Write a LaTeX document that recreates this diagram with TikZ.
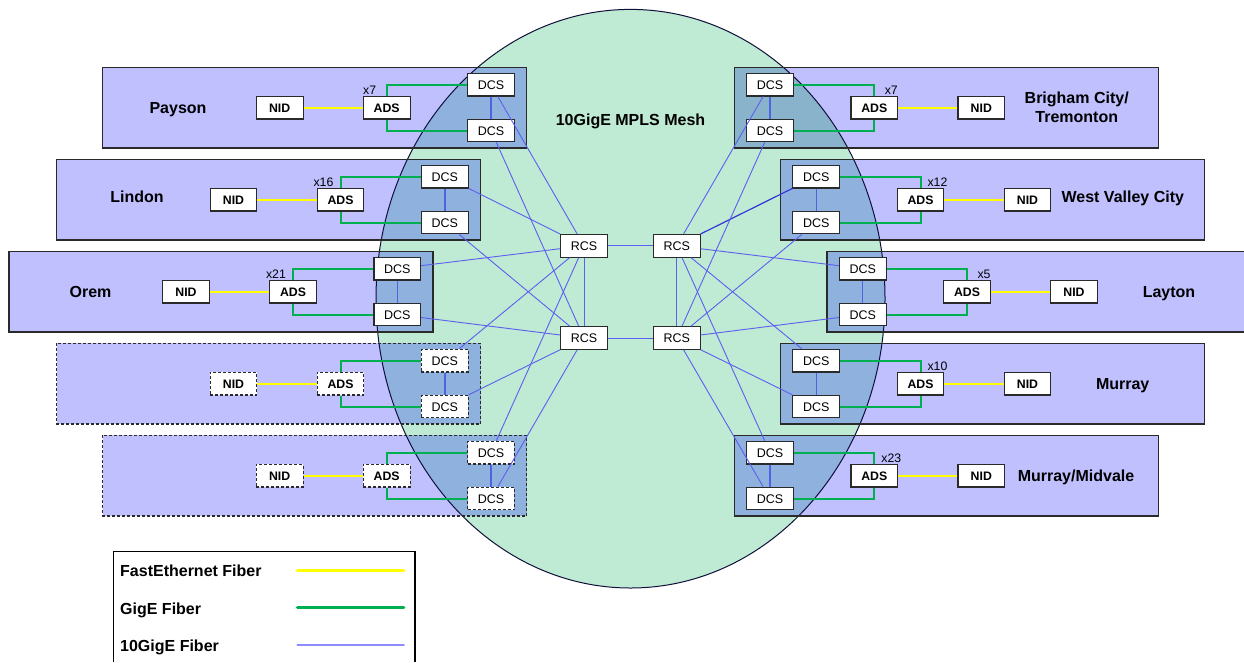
\documentclass[tikz,border=0pt]{standalone}
\usepackage{fontspec}
\setmainfont{Liberation Sans}
\definecolor{sitefill}{HTML}{C0C0FF}
\definecolor{meshfill}{HTML}{BFEAD3}
\definecolor{overfill}{HTML}{8FB1DE}
\definecolor{overfillB}{HTML}{88B3CB}
\definecolor{tenG}{HTML}{5E5EF0}
\definecolor{tenGv}{HTML}{4F63E2}
\definecolor{tenGd}{HTML}{3434D8}
\definecolor{tenGl}{HTML}{8C8CFF}
\definecolor{gigE}{HTML}{00B050}
\definecolor{fastE}{HTML}{FFFF00}
\definecolor{edge}{HTML}{2A2A2A}
\definecolor{ringedge}{HTML}{10103A}
\begin{document}
\begin{tikzpicture}[x=1pt,y=-1pt]
\tikzset{
 nb/.style={draw=edge, line width=1.1pt, fill=white, minimum width=46.7pt, minimum height=22.7pt, inner sep=0pt, font=\fontsize{12.5}{14}\selectfont, text height=9pt, text depth=0pt},
 nbb/.style={nb, font=\fontsize{12.3}{14}\selectfont\bfseries},
 dsh/.style={dash pattern=on 3pt off 2pt},
 sitename/.style={font=\fontsize{16}{19}\selectfont\bfseries, inner sep=0pt, text height=11.5pt, text depth=0pt},
 sitename2/.style={font=\fontsize{16}{19}\selectfont\bfseries, inner sep=0pt, align=center},
 cnt/.style={font=\fontsize{12.3}{14}\selectfont, inner sep=0pt, text height=8.8pt, text depth=0pt},
 legtext/.style={font=\fontsize{16}{19}\selectfont\bfseries, inner sep=0pt, anchor=west, text height=11.5pt, text depth=0pt},
 fe/.style={draw=fastE, line width=2pt},
 ge/.style={draw=gigE, line width=2pt},
 tg/.style={draw=tenG, line width=0.9pt},
 tgv/.style={draw=tenGv, line width=1.4pt},
 siteb/.style={draw=edge, line width=1.4pt},
}
\useasboundingbox (0,0) rectangle (1244,662);

% mesh ellipse
\fill[meshfill] (630.5,298.7) ellipse [x radius=254.5, y radius=289.3];

% site backgrounds
\fill[sitefill] (102.7,67.3) rectangle (526.7,148);
\fill[sitefill] (56.5,159.3) rectangle (480.5,240);
\fill[sitefill] (9,251.3) rectangle (433,332);
\fill[sitefill] (56.5,343.3) rectangle (480.5,424);
\fill[sitefill] (102.7,435.3) rectangle (526.7,516);
\fill[sitefill] (734.3,67.3) rectangle (1158.3,148);
\fill[sitefill] (780.5,159.3) rectangle (1204.5,240);
\fill[sitefill] (827,251.3) rectangle (1244,332);
\fill[sitefill] (780.5,343.3) rectangle (1204.5,424);
\fill[sitefill] (734.3,435.3) rectangle (1158.3,516);

% overlap of sites with the mesh
\begin{scope}
\clip (630.5,298.7) ellipse [x radius=254.5, y radius=289.3];
\fill[overfill] (102.7,67.3) rectangle (526.7,148);
\fill[overfill] (56.5,159.3) rectangle (480.5,240);
\fill[overfill] (9,251.3) rectangle (433,332);
\fill[overfill] (56.5,343.3) rectangle (480.5,424);
\fill[overfill] (102.7,435.3) rectangle (526.7,516);
\fill[overfillB] (734.3,67.3) rectangle (1158.3,148);
\fill[overfill] (780.5,159.3) rectangle (1204.5,240);
\fill[overfill] (827,251.3) rectangle (1244,332);
\fill[overfill] (780.5,343.3) rectangle (1204.5,424);
\fill[overfill] (734.3,435.3) rectangle (1158.3,516);
\end{scope}

\draw[ringedge, line width=1pt] (630.5,298.7) ellipse [x radius=254.5, y radius=289.3];

% site borders
\draw[siteb] (102.7,67.3) rectangle (526.7,148);
\draw[siteb] (56.5,159.3) rectangle (480.5,240);
\draw[siteb] (9,251.3) rectangle (433,332);
\draw[siteb, dsh] (56.5,343.3) rectangle (480.5,424);
\draw[siteb, dsh] (102.7,435.3) rectangle (526.7,516);
\draw[siteb] (734.3,67.3) rectangle (1158.3,148);
\draw[siteb] (780.5,159.3) rectangle (1204.5,240);
\draw[siteb] (1244,251.3) -- (827,251.3) -- (827,332) -- (1244,332);
\draw[siteb] (780.5,343.3) rectangle (1204.5,424);
\draw[siteb] (734.3,435.3) rectangle (1158.3,516);

% title
\node[sitename] (title) at (630.5,119.3) {10GigE MPLS Mesh};

% RCS core
\node[nb] (rTL) at (584,245.8) {RCS};
\node[nb] (rTR) at (676.7,245.8) {RCS};
\node[nb] (rBL) at (584,338) {RCS};
\node[nb] (rBR) at (676.7,338) {RCS};

% ---- left sites
% Payson
\node[nb] (dPt) at (491,84.6) {DCS};
\node[nb] (dPb) at (491,130.5) {DCS};
\node[nbb] (aP) at (386.7,107.6) {ADS};
\node[nbb] (nP) at (279.7,107.6) {NID};
\node[cnt] (xP) at (369.7,89.6) {x7};
\node[sitename] (sP) at (178,107.6) {Payson};
% Lindon
\node[nb] (dLt) at (444.8,176.6) {DCS};
\node[nb] (dLb) at (444.8,222.5) {DCS};
\node[nbb] (aL) at (340.5,199.6) {ADS};
\node[nbb] (nL) at (233.5,199.6) {NID};
\node[cnt] (xL) at (323.5,181.6) {x16};
\node[sitename] (sL) at (137,197) {Lindon};
% Orem
\node[nb] (dOt) at (397.3,268.6) {DCS};
\node[nb] (dOb) at (397.3,314.5) {DCS};
\node[nbb] (aO) at (293,291.6) {ADS};
\node[nbb] (nO) at (186,291.6) {NID};
\node[cnt] (xO) at (276,273.6) {x21};
\node[sitename] (sO) at (90.5,291.6) {Orem};
% planned site 1
\node[nb, dsh] (dAt) at (444.8,360.6) {DCS};
\node[nb, dsh] (dAb) at (444.8,406.5) {DCS};
\node[nbb, dsh] (aA) at (340.5,383.6) {ADS};
\node[nbb, dsh] (nA) at (233.5,383.6) {NID};
% planned site 2
\node[nb, dsh] (dBt) at (491,452.6) {DCS};
\node[nb, dsh] (dBb) at (491,498.5) {DCS};
\node[nbb, dsh] (aB) at (386.7,475.6) {ADS};
\node[nbb, dsh] (nB) at (279.7,475.6) {NID};

% ---- right sites
% Brigham City / Tremonton
\node[nb] (dGt) at (770,84.6) {DCS};
\node[nb] (dGb) at (770,130.5) {DCS};
\node[nbb] (aG) at (874.3,107.6) {ADS};
\node[nbb] (nG) at (981.3,107.6) {NID};
\node[cnt] (xG) at (891.3,89.6) {x7};
\node[sitename2] (sG) at (1076.7,107.6) {Brigham City/\\Tremonton};
% West Valley City
\node[nb] (dWt) at (816.2,176.6) {DCS};
\node[nb] (dWb) at (816.2,222.5) {DCS};
\node[nbb] (aW) at (920.5,199.6) {ADS};
\node[nbb] (nW) at (1027.5,199.6) {NID};
\node[cnt] (xW) at (937.5,181.6) {x12};
\node[sitename] (sW) at (1122.8,197) {West Valley City};
% Layton
\node[nb] (dYt) at (862.7,268.6) {DCS};
\node[nb] (dYb) at (862.7,314.5) {DCS};
\node[nbb] (aY) at (967,291.6) {ADS};
\node[nbb] (nY) at (1074,291.6) {NID};
\node[cnt] (xY) at (984,273.6) {x5};
\node[sitename] (sY) at (1169,291.6) {Layton};
% Murray
\node[nb] (dMt) at (816.2,360.6) {DCS};
\node[nb] (dMb) at (816.2,406.5) {DCS};
\node[nbb] (aM) at (920.5,383.6) {ADS};
\node[nbb] (nM) at (1027.5,383.6) {NID};
\node[cnt] (xM) at (937.5,365.6) {x10};
\node[sitename] (sM) at (1122.7,384) {Murray};
% Murray/Midvale
\node[nb] (dVt) at (770,452.6) {DCS};
\node[nb] (dVb) at (770,498.5) {DCS};
\node[nbb] (aV) at (874.3,475.6) {ADS};
\node[nbb] (nV) at (981.3,475.6) {NID};
\node[cnt] (xV) at (891.3,457.6) {x23};
\node[sitename] (sV) at (1076,475.6) {Murray/Midvale};

% ---- FastEthernet fiber NID - ADS
\foreach \s in {P,L,O,A,B,G,W,Y,M,V} {
  \draw[fe] (n\s) -- (a\s);
}
% ---- GigE fiber ADS - DCS pairs
\foreach \s in {P,L,O,A,B,G,W,Y,M,V} {
  \draw[ge] (a\s.north) |- (d\s t);
  \draw[ge] (a\s.south) |- (d\s b);
}
% ---- DCS pair links
\foreach \s in {P,L,O,A,B,G,W,Y,M,V} {
  \draw[tgv] (d\s t) -- (d\s b);
}
% ---- 10GigE mesh
\foreach \s in {P,L,O,A,B} {
  \draw[tg] (d\s t) -- (rTL);
  \draw[tg] (d\s b) -- (rBL);
}
\foreach \s in {G,Y,M,V} {
  \draw[tg] (d\s t) -- (rTR);
}
\draw[draw=tenGd, line width=1.2pt] (dWt) -- (rTR);
\foreach \s in {G,W,Y,M,V} {
  \draw[tg] (d\s b) -- (rBR);
}
\draw[tg] (rTL) -- (rTR);
\draw[tg] (rBL) -- (rBR);
\draw[tg] (rTL) -- (rBL);
\draw[tg] (rTR) -- (rBR);

% ---- legend
\draw[draw=black, line width=1.3pt] (113.3,662) |- (415,551.7) -- (415,662);
\node[legtext] (lgFE) at (120,571) {FastEthernet Fiber};
\node[legtext] (lgGE) at (120,608.5) {GigE Fiber};
\node[legtext] (lgTG) at (120,646) {10GigE Fiber};
\coordinate (feA) at (297.3,570.7);
\coordinate (feB) at (404,570.7);
\coordinate (geA) at (297.3,607.3);
\coordinate (geB) at (404,607.3);
\coordinate (tgA) at (297.3,645);
\coordinate (tgB) at (404,645);
\draw[draw=fastE, line width=2.6pt, line cap=round] (feA) -- (feB);
\draw[draw=gigE, line width=2.6pt, line cap=round] (geA) -- (geB);
\draw[draw=tenGl, line width=1.6pt, line cap=round] (tgA) -- (tgB);
\end{tikzpicture}
\end{document}
